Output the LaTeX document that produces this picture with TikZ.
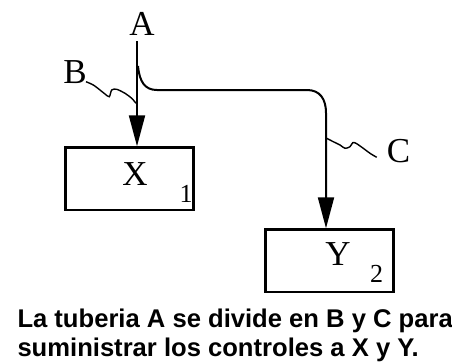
\documentclass[tikz,border=0pt]{standalone}
\usepackage{fontspec}
\setmainfont{Liberation Serif}
\newfontfamily\capfont{Liberation Sans}
\usetikzlibrary{arrows.meta}
\begin{document}
\begin{tikzpicture}[x=1pt,y=-1pt,
  box/.style={draw, line width=2.6pt, minimum width=128pt, minimum height=62.5pt, inner sep=0pt, anchor=north west},
  lbl/.style={font=\fontsize{35}{35}\selectfont, inner sep=0pt, anchor=base},
  sub/.style={font=\fontsize{26}{26}\selectfont, inner sep=0pt, anchor=base},
  pipe/.style={line width=2pt},
  flow/.style={pipe, -{Triangle[length=31pt,width=16pt]}},
  wavy/.style={line width=1.4pt, smooth, tension=0.5},
  caption/.style={font=\capfont\bfseries\fontsize{25.6}{29}\selectfont, inner sep=0pt, anchor=base west}]
\useasboundingbox (0,0) rectangle (452,362);
% boxes
\node[box] (x) at (64.3,146.3) {};
\node[box] (y) at (264.3,228.3) {};
% labels
\node[lbl] (a) at (142,35) {A};
\node[lbl] (b) at (75,83) {B};
\node[lbl] (c) at (398.5,162) {C};
\node[lbl] (xl) at (135,185) {X};
\node[sub] (x1) at (186,202) {1};
\node[lbl] (yl) at (338,265) {Y};
\node[sub] (y2) at (376.5,282) {2};
% pipes
\coordinate (atop) at (137,41);
\coordinate (split) at (138,66);
\coordinate (hstart) at (157,90);
\coordinate (hend) at (307,90);
\coordinate (cdown) at (326,113);
\draw[flow] (atop) -- (atop |- x.north);
\draw[flow] (split) .. controls (139.5,82) and (145,90) .. (hstart) -- (hend)
  .. controls (320,90) and (326,99) .. (cdown) -- (cdown |- y.north);
% leader squiggles
\draw[wavy] plot coordinates {(86,81.7) (93.3,85) (100,90) (105,94) (109.3,96.7) (111.7,90) (116.7,89.3) (125,93.3) (131.7,98.3) (136,103.3)};
\draw[wavy] plot coordinates {(326.7,138.3) (333.3,141.7) (340,145) (345,148.3) (350,146.7) (352.7,142.7) (356,143.3) (363.3,148.3) (370,153.3) (376.7,157.3)};
% caption
\node[caption] (cap1) at (17.3,327.7) {La tuberia A se divide en B y C para};
\node[caption] (cap2) at (17.3,356.7) {suministrar los controles a X y Y.};
\end{tikzpicture}
\end{document}
